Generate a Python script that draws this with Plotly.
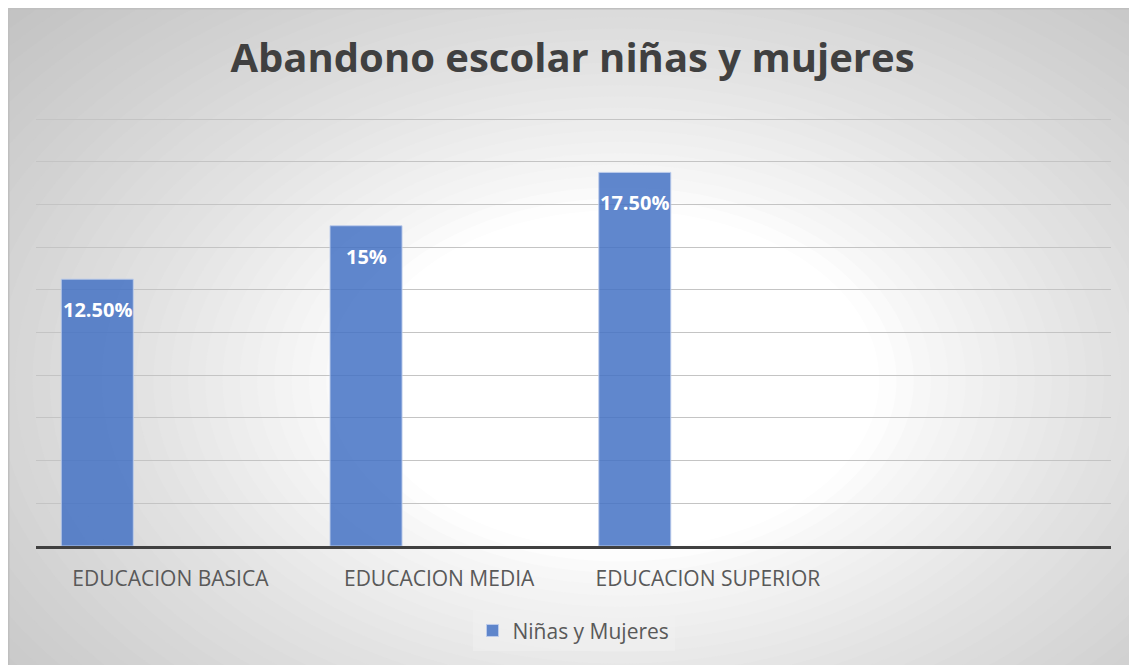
import plotly.graph_objects as go

# datos
categorias = ["EDUCACION BASICA", "EDUCACION MEDIA", "EDUCACION SUPERIOR"]
valores = [12.5, 15, 17.5]
etiquetas = ["12.50%", "15%", "17.50%"]
serie = "Niñas y Mujeres"

# la página deja 8px de margen en el body: la figura se corre para compensar
OFF = 8
W, H = 1137 - OFF, 665 - OFF
ML, MR, MT, MB = 28, 26, 103, 119
PW, PH = W - ML - MR, H - MT - MB

# desplazamiento de la barra dentro de cada categoría (como en Excel con 3 series)
ancho_barra = 0.268
offset_barra = -0.406

x_pos = list(range(len(categorias)))

fig = go.Figure()
fig.add_trace(go.Bar(
    x=x_pos, y=valores, name=serie,
    width=ancho_barra, offset=offset_barra,
    marker=dict(color='rgba(68,114,196,0.85)', line=dict(color='rgba(190,205,235,0.9)', width=1)),
    showlegend=True, hoverinfo='skip'
))

# etiquetas de datos dentro de la barra
for x, v, t in zip(x_pos, valores, etiquetas):
    fig.add_annotation(x=x + offset_barra + ancho_barra / 2, y=v, text=t, showarrow=False,
                       yanchor='top', yshift=-15,
                       font=dict(family='Open Sans, sans-serif', size=20, color='white', weight='bold'))


# fondo con degradado radial (elipses concéntricas); coordenadas en px de la referencia
def px2paper(px, py):
    return (px - OFF - ML) / PW, (H - MB - (py - OFF)) / PH


cx, cy, rx, ry = 620, 380, 640, 420
shapes = []
n = 50
r_max = 1.35
for i in range(n):
    r = r_max * (1 - i / n)
    t = min(max((r - 0.42) / 0.88, 0), 1)
    g = int(round(255 - 60 * t ** 0.8))
    x0, y0 = px2paper(cx - rx * r, cy + ry * r)
    x1, y1 = px2paper(cx + rx * r, cy - ry * r)
    shapes.append(dict(type='circle', xref='paper', yref='paper', x0=x0, y0=y0, x1=x1, y1=y1,
                       fillcolor=f'rgb({g},{g},{g})', line=dict(width=0), layer='below'))

# borde del gráfico
bx0, by0 = px2paper(0, 700)
bx1, by1 = px2paper(1200, 0)
fx, fy = px2paper(OFF + 0.75, OFF + 0.75)
shapes.append(dict(type='line', xref='paper', yref='paper', x0=fx, x1=bx1, y0=fy, y1=fy,
                   line=dict(color='#bfbfbf', width=1.5), layer='below'))
shapes.append(dict(type='line', xref='paper', yref='paper', x0=fx, x1=fx, y0=by0, y1=fy,
                   line=dict(color='#bfbfbf', width=1.5), layer='below'))

fig.update_layout(
    width=W, height=H,
    margin=dict(l=ML, r=MR, t=MT, b=MB, autoexpand=False),
    paper_bgcolor='rgb(195,195,195)',
    plot_bgcolor='rgba(0,0,0,0)',
    shapes=shapes,
    title=dict(text='Abandono escolar niñas y mujeres', x=0.5, xanchor='center', y=0.924, yanchor='middle',
               font=dict(family='Open Sans, sans-serif', size=40, color='#404040', weight='bold')),
    xaxis=dict(range=[-0.5, 3.5], tickvals=x_pos, ticktext=categorias, showgrid=False, zeroline=False,
               showline=True, linecolor='#404040', linewidth=3,
               ticks='outside', ticklen=12, tickcolor='rgba(0,0,0,0)',
               tickfont=dict(family='Open Sans, sans-serif', size=21, color='#595959')),
    yaxis=dict(range=[0, 20.375], tickvals=list(range(2, 21, 2)), showgrid=True, gridcolor='#c4c4c4',
               gridwidth=1, showticklabels=False, zeroline=False),
    showlegend=True,
    legend=dict(orientation='h', x=0.5, xanchor='center', y=-0.195, yanchor='middle',
                bgcolor='rgba(240,240,240,0.55)', borderwidth=0, itemwidth=30,
                font=dict(family='Open Sans, sans-serif', size=21, color='#595959')),
    bargap=0.2,
)

fig.write_html("out.html")
